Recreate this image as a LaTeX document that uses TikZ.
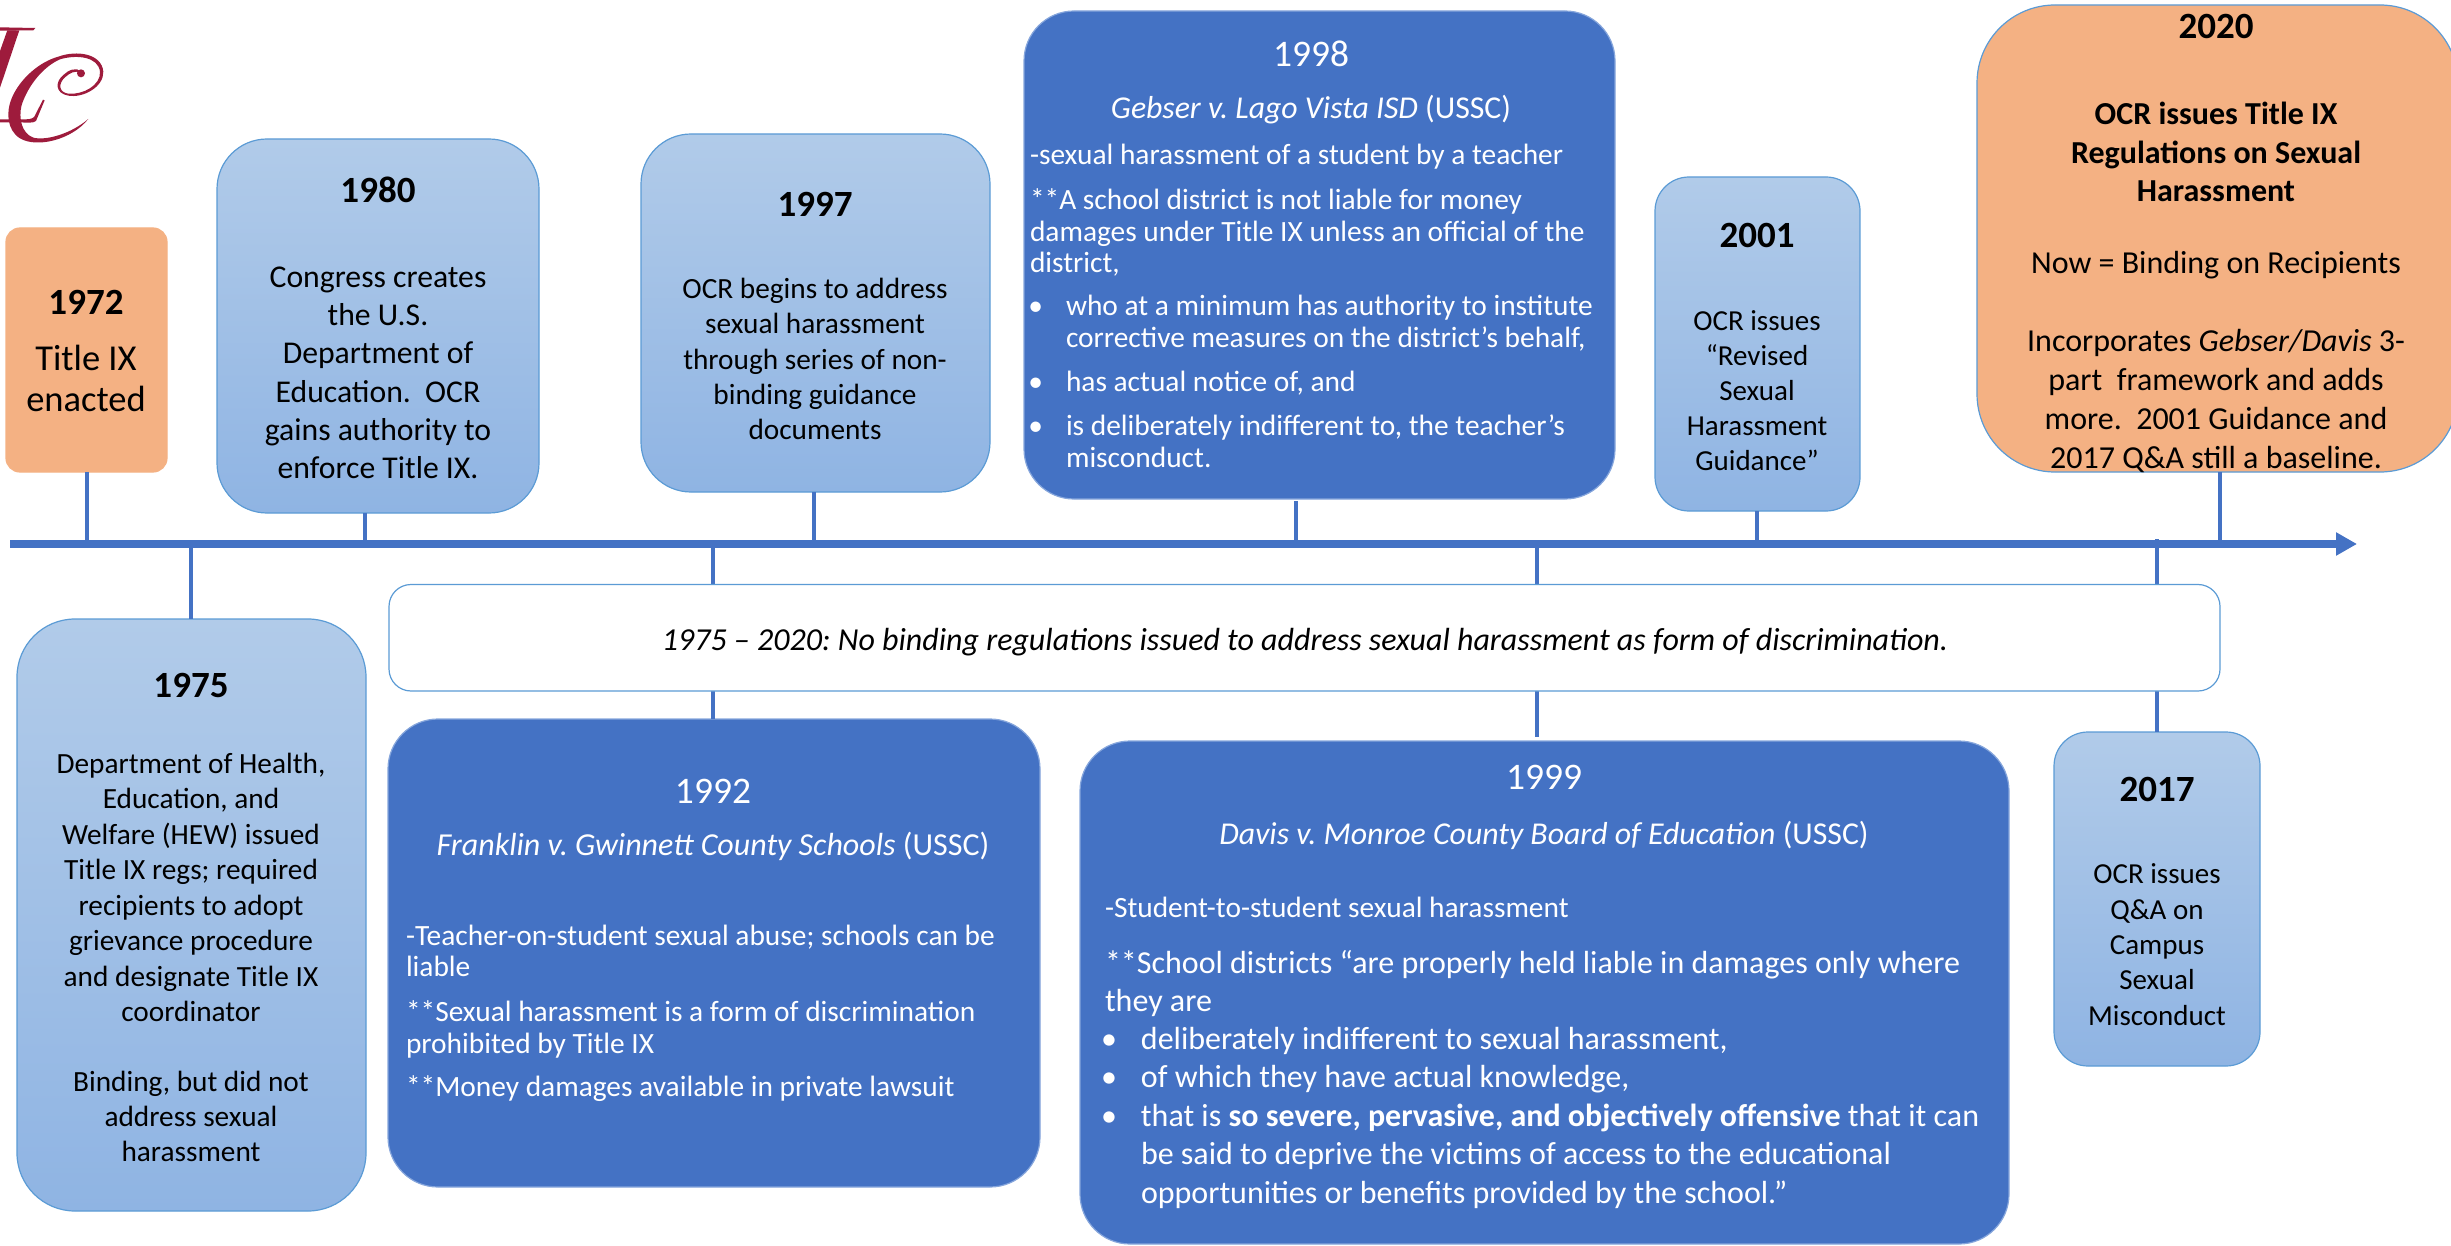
\documentclass[tikz,border=0pt]{standalone}
\usepackage{fontspec}
\setmainfont{Carlito}
\usetikzlibrary{arrows.meta}
\definecolor{lineblue}{HTML}{4472C4}
\definecolor{edgeblue}{HTML}{5B9BD5}
\definecolor{darkedge}{HTML}{86A6DC}
\definecolor{lighttop}{HTML}{B1CBE9}
\definecolor{lightbot}{HTML}{8FB4E3}
\definecolor{orangefill}{HTML}{F4B183}
\definecolor{logored}{HTML}{9E1B3C}
\newcommand{\fs}[2]{\fontsize{#1}{#2}\selectfont}
\tikzset{
  x=1pt,y=-1pt,
  box/.style={rectangle,inner sep=0pt,outer sep=0pt,line width=1.2pt,draw=edgeblue},
  lightbox/.style={box,top color=lighttop,bottom color=lightbot},
  darkbox/.style={box,fill=lineblue,draw=darkedge},
  orangebox/.style={box,fill=orangefill},
  stem/.style={draw=lineblue,line width=4.7pt},
  txt/.style={inner sep=0pt,outer sep=0pt,align=center,text=black,anchor=base},
  wtxt/.style={inner sep=0pt,outer sep=0pt,align=left,text=white,anchor=north west},
  wctr/.style={inner sep=0pt,outer sep=0pt,align=center,text=white,anchor=base},
}
\newcommand{\boxnode}[7]{% style,name,x1,y1,x2,y2,radius
  \node[#1,rounded corners=#7pt,minimum width=#5pt-#3pt,minimum height=#6pt-#4pt] (#2) at ({(#3+#5)/2},{(#4+#6)/2}) {};}
\begin{document}
\frenchspacing
\begin{tikzpicture}
\useasboundingbox (0,0) rectangle (2451,1246);
% logo
\begin{scope}[shift={(0,15)},scale=0.3333]
\fill[logored] (0,37) -- (106,39) -- (100,46) -- (0,47) -- cycle;
\fill[logored] (22,46) -- (58,46) -- (0,218) -- (0,108) -- cycle;
\fill[logored] (0,313) -- (60,313) .. controls (85,314) and (98,312) .. (103,305) -- (129,254) -- (134,256) -- (108,318) .. controls (100,325) and (80,323) .. (60,322) -- (0,322) -- cycle;
\fill[logored] (265,312) .. controls (215,375) and (110,400) .. (60,370) .. controls (20,345) and (18,290) .. (35,250) .. controls (60,190) and (120,140) .. (175,125) .. controls (230,105) and (305,115) .. (310,170) .. controls (312,215) and (250,250) .. (205,242) .. controls (165,235) and (165,200) .. (190,180) .. controls (205,165) and (230,155) .. (243,170) -- (240,173) .. controls (225,165) and (208,175) .. (195,187) .. controls (175,205) and (175,232) .. (205,236) .. controls (250,240) and (303,210) .. (300,170) .. controls (295,125) and (230,118) .. (180,133) .. controls (130,155) and (85,210) .. (65,270) .. controls (55,310) and (65,355) .. (100,368) .. controls (140,378) and (215,355) .. (265,312) -- cycle;
\fill[logored] (243,175) circle[radius=12];
\end{scope}
% axis coordinates
\coordinate (axL) at (10,544);
\coordinate (axR) at (2357,544);
\coordinate (a72) at (87,544);
\coordinate (a75) at (191,544);
\coordinate (a80) at (365,544);
\coordinate (a92) at (713,544);
\coordinate (a97) at (814,544);
\coordinate (a98) at (1296,544);
\coordinate (a99) at (1537,544);
\coordinate (a01) at (1757,544);
\coordinate (a17) at (2157,539);
\coordinate (a20) at (2220,544);
% boxes
\boxnode{orangebox,draw=orangefill}{y72}{6}{228}{167}{472}{14}
\boxnode{lightbox}{y80}{217}{139}{539}{513}{50}
\boxnode{lightbox}{y97}{641}{134}{990}{492}{50}
\boxnode{darkbox}{y98}{1024}{11}{1615}{499}{50}
\boxnode{lightbox}{y01}{1655}{177}{1860}{511}{34}
\boxnode{orangebox}{y20}{1977}{5}{2458}{472}{78}
\boxnode{lightbox}{y75}{17}{619}{366}{1211}{58}
\boxnode{darkbox}{y92}{388}{719}{1040}{1187}{50}
\boxnode{darkbox}{y99}{1080}{741}{2009}{1244}{50}
\boxnode{lightbox}{y17}{2054}{732}{2260}{1066}{34}
% stems
\draw[stem] (a72) -- (a72 |- y72.south);
\draw[stem] (a75) -- (a75 |- y75.north);
\draw[stem] (a80) -- (a80 |- y80.south);
\draw[stem] (a92) -- (a92 |- y92.north);
\draw[stem] (a97) -- (a97 |- y97.south);
\draw[stem,shorten >=2pt] (a98) -- (a98 |- y98.south);
\draw[stem,shorten >=4pt] (a99) -- (a99 |- y99.north);
\draw[stem] (a01) -- (a01 |- y01.south);
\draw[stem] (a17) -- (a17 |- y17.north);
\draw[stem] (a20) -- (a20 |- y20.south);
\draw[draw=lineblue,line width=7.4pt,-{Triangle[length=21pt,width=22pt]}] (axL) -- (axR);
% band
\boxnode{box,fill=white}{band}{389}{584.5}{2220}{691}{22}
\node[txt,font=\fs{32}{35}\itshape] (bandt) at (1305,650) {1975 – 2020: No binding regulations issued to address sexual harassment as form of discrimination.};
% light / orange text
\node[txt,font=\fs{37}{40}\bfseries] (t72) at (86,315) {1972};
\node[txt,font=\fs{36.5}{40.5}] (b72) at (86,411) {Title IX\\enacted};
\node[txt,font=\fs{37}{40}\bfseries] (t80) at (378,202.5) {1980};
\node[txt,font=\fs{31.7}{38.2}] (b80) at (378,478.5) {Congress creates\\the U.S.\\Department of\\Education.\ \ OCR\\gains authority to\\enforce Title IX.};
\node[txt,font=\fs{37}{40}\bfseries] (t97) at (815,217) {1997};
\node[txt,font=\fs{29.3}{35.2}] (b97) at (815,439.5) {OCR begins to address\\sexual harassment\\through series of non-\\binding guidance\\documents};
\node[txt,font=\fs{37}{40}\bfseries] (t01) at (1757,247.5) {2001};
\node[txt,font=\fs{29}{35}] (b01) at (1757,470) {OCR issues\\“Revised\\Sexual\\Harassment\\Guidance”};
\node[txt,font=\fs{37}{40}\bfseries] (t75) at (191,697) {1975};
\node[txt,font=\fs{29.3}{35.5}] (b75) at (191,1021.5) {Department of Health,\\Education, and\\Welfare (HEW) issued\\Title IX regs; required\\recipients to adopt\\grievance procedure\\and designate Title IX\\coordinator};
\node[txt,font=\fs{29.3}{35}] (c75) at (191,1161.5) {Binding, but did not\\address sexual\\harassment};
\node[txt,font=\fs{37}{40}\bfseries] (t17) at (2157,801) {2017};
\node[txt,font=\fs{29}{35.3}] (b17) at (2157,1025) {OCR issues\\Q\&A on\\Campus\\Sexual\\Misconduct};
\node[txt,font=\fs{37}{40}\bfseries] (t20) at (2216,39) {2020};
\node[txt,font=\fs{32}{38.8}\bfseries] (h20) at (2216,202) {OCR issues Title IX\\Regulations on Sexual\\Harassment};
\node[txt,font=\fs{32}{38.8}] (n20) at (2216,274) {Now = Binding on Recipients};
\node[txt,font=\fs{32}{38.8}] (i20) at (2216,468) {Incorporates \textit{Gebser/Davis} 3-\\part\ \ framework and adds\\more.\ \ 2001 Guidance and\\2017 Q\&A still a baseline.};
% 1998
\node[wctr,font=\fs{37.5}{40}] (t98) at (1311,66.5) {1998};
\node[wctr,font=\fs{31.8}{36}] (s98) at (1311,118.5) {\textit{Gebser v. Lago Vista ISD} (USSC)};
\node[wtxt,font=\fs{29.4}{31.5}] (a98) at (1030,144.5) {-sexual harassment of a student by a teacher};
\node[wtxt,font=\fs{29.4}{31.5}] (d98) at (1030,189) {**A school district is not liable for money\\damages under Title IX unless an official of the\\district,};
\node[wtxt,font=\fs{29.4}{31.5}] (e98) at (1066,295.5) {\llap{•\hspace{23pt}}who at a minimum has authority to institute\\corrective measures on the district’s behalf,};
\node[wtxt,font=\fs{29.4}{31.5}] (f98) at (1066,371.5) {\llap{•\hspace{23pt}}has actual notice of, and};
\node[wtxt,font=\fs{29.4}{32.5}] (g98) at (1066,414.5) {\llap{•\hspace{23pt}}is deliberately indifferent to, the teacher’s\\misconduct.};
% 1992
\node[wctr,font=\fs{37.5}{40}] (t92) at (713,803.5) {1992};
\node[wctr,font=\fs{32}{36}] (s92) at (713,855) {\textit{Franklin v. Gwinnett County Schools} (USSC)};
\node[wtxt,font=\fs{29.4}{31.5}] (a92b) at (406,925) {-Teacher-on-student sexual abuse; schools can be\\liable};
\node[wtxt,font=\fs{29.4}{31.5}] (d92) at (406,1001) {**Sexual harassment is a form of discrimination\\prohibited by Title IX};
\node[wtxt,font=\fs{29.4}{31.5}] (e92) at (406,1075.5) {**Money damages available in private lawsuit};
% 1999
\node[wctr,font=\fs{37.5}{40}] (t99) at (1544,789) {1999};
\node[wctr,font=\fs{31.8}{36}] (s99) at (1544,844.5) {\textit{Davis v. Monroe County Board of Education} (USSC)};
\node[wtxt,font=\fs{29.4}{31.5}] (a99b) at (1105,897) {-Student-to-student sexual harassment};
\node[wtxt,font=\fs{32}{38.4}] (d99) at (1105,950) {**School districts “are properly held liable in damages only where\\they are};
\node[wtxt,font=\fs{32}{38.5}] (e99) at (1141,1027) {\llap{•\hspace{24pt}}deliberately indifferent to sexual harassment,\\\llap{•\hspace{24pt}}of which they have actual knowledge,\\\llap{•\hspace{24pt}}that is \textbf{so severe, pervasive, and objectively offensive} that it can\\be said to deprive the victims of access to the educational\\opportunities or benefits provided by the school.”};
\end{tikzpicture}
\end{document}
